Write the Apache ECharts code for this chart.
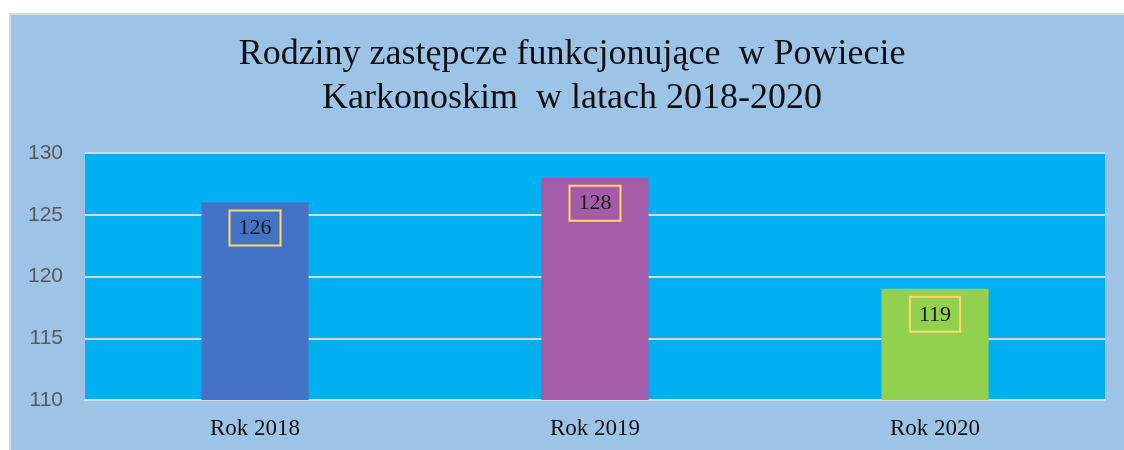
<!DOCTYPE html>
<html>
<head>
<meta charset="utf-8">
<script src="https://cdn.jsdelivr.net/npm/echarts@6/dist/echarts.min.js"></script>
<style>
html,body{margin:0;padding:0;background:#ffffff;}
#chart{width:1124px;height:450px;}
</style>
</head>
<body>
<div id="chart"></div>
<script>
const titleLines = ['Rodziny zastępcze funkcjonujące  w Powiecie', 'Karkonoskim  w latach 2018-2020'];
const categories = ['Rok 2018', 'Rok 2019', 'Rok 2020'];
const values = [126, 128, 119];
const barColors = ['#4472c4', '#a55ca8', '#92d050'];
const yMin = 110, yMax = 130, yStep = 5;

const chart = echarts.init(document.getElementById('chart'), null, {renderer: 'canvas'});
chart.setOption({
  backgroundColor: '#ffffff',
  animation: false,
  graphic: [{
    type: 'rect', z: -10, silent: true,
    shape: {x: 10, y: 14, width: 1130, height: 450},
    style: {fill: '#9dc3e6', stroke: '#d9d9d9', lineWidth: 2}
  }],
  title: {
    text: titleLines.join('\n'),
    left: 572,
    textAlign: 'center',
    top: 33,
    padding: 0,
    textStyle: {
      fontFamily: 'Liberation Serif', fontSize: 36, fontWeight: 'normal',
      color: '#111111', lineHeight: 44
    }
  },
  grid: {
    left: 85, right: 19, top: 153, bottom: 50,
    show: true, backgroundColor: '#00b0f0', borderWidth: 0
  },
  xAxis: {
    type: 'category',
    data: categories,
    axisLine: {show: true, lineStyle: {color: '#d9d9d9', width: 2}},
    axisTick: {show: false},
    axisLabel: {fontFamily: 'Liberation Serif', fontSize: 23, color: '#111111', margin: 17}
  },
  yAxis: {
    type: 'value',
    min: yMin, max: yMax, interval: yStep,
    axisLine: {show: false},
    axisTick: {show: false},
    splitLine: {show: true, lineStyle: {color: '#d9d9d9', width: 2}},
    axisLabel: {fontFamily: 'Liberation Sans', fontSize: 21, color: '#595959', margin: 22}
  },
  series: [{
    type: 'bar',
    barWidth: '31.5%',
    data: values.map((v, i) => ({value: v, itemStyle: {color: barColors[i]}})),
    label: {
      show: true,
      position: 'insideTop',
      distance: 8,
      fontFamily: 'Liberation Serif',
      fontSize: 22,
      color: '#1a1a1a',
      borderColor: '#ffd966',
      borderWidth: 2,
      padding: [7, 9, 6, 9]
    }
  }]
});
</script>
</body>
</html>
